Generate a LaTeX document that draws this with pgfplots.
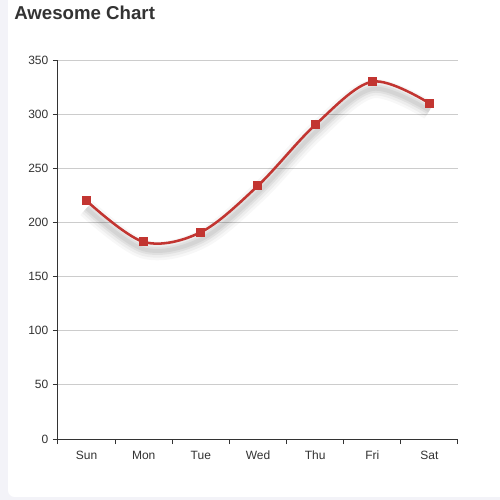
\documentclass[border=0pt]{standalone}
\usepackage{pgfplots}
\pgfplotsset{compat=1.18}
\usepackage{fontspec}
\setmainfont{Liberation Sans}
\definecolor{pagebg}{HTML}{F3F3F8}
\definecolor{txt}{HTML}{333333}
\definecolor{gridc}{HTML}{CCCCCC}
\definecolor{linered}{HTML}{C23531}

\pgfplotstableread{
x y
0 220
1 182
2 191
3 234
4 290
5 330
6 310
}\sales

\pgfplotsset{shadowline/.style={smooth, tension=0.55, draw=black, yshift=-5.5pt, no marks, forget plot}}

\begin{document}
\begin{tikzpicture}
  % page and card, 500x500 px at 0.75pt per px
  \useasboundingbox (0,0) rectangle (375pt,375pt);
  \fill[pagebg] (0,0) rectangle (375pt,375pt);
  \fill[white, rounded corners=5pt] (6pt,2.25pt) rectangle (385pt,385pt);
  \node[anchor=base west, font=\fontsize{14}{16}\selectfont\bfseries, text=txt, inner sep=0pt]
    at (10.5pt,360.5pt) {Awesome Chart};

  \begin{axis}[
    at={(43.5pt,45.75pt)}, anchor=south west,
    scale only axis,
    width=300pt, height=284.25pt,
    xmin=-0.5, xmax=6.5,
    ymin=0, ymax=350,
    axis x line=bottom, axis y line=left,
    axis line style={-, draw=txt, line width=0.75pt},
    xtick={0,...,6},
    xticklabels={Sun,Mon,Tue,Wed,Thu,Fri,Sat},
    minor xtick={-0.5,0.5,...,6.5},
    ytick={0,50,...,350},
    tick align=outside,
    major x tick style={draw=none},
    minor x tick style={draw=txt, line width=0.75pt},
    major y tick style={draw=txt, line width=0.75pt},
    major tick length=3.75pt, minor tick length=3.75pt,
    ymajorgrids,
    major grid style={draw=gridc, line width=0.75pt},
    tick label style={font=\fontsize{9}{10}\selectfont, text=txt},
    xticklabel style={text height=1.6ex, text depth=0.3ex},
    /pgf/number format/assume math mode=true,
    clip=false,
  ]
    % soft shadow beneath the line
    \addplot[shadowline, opacity=0.03, line width=14pt] table[x=x, y=y] {\sales};
    \addplot[shadowline, opacity=0.04, line width=10pt] table[x=x, y=y] {\sales};
    \addplot[shadowline, opacity=0.05, line width=6pt] table[x=x, y=y] {\sales};
    \addplot[shadowline, opacity=0.05, line width=3pt] table[x=x, y=y] {\sales};
    \addplot[smooth, tension=0.55, draw=linered, line width=1.9pt,
             mark=square*, mark size=3pt, mark options={fill=linered, draw=linered, line width=0pt}]
      table[x=x, y=y] {\sales};
  \end{axis}
\end{tikzpicture}
\end{document}
